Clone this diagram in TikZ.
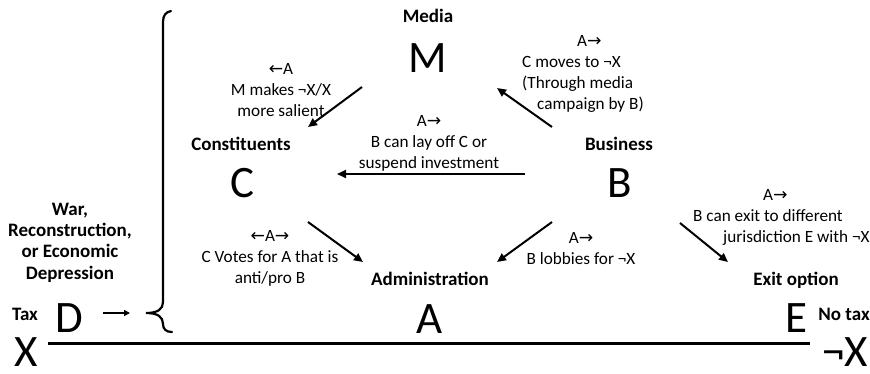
\documentclass[tikz,border=0pt]{standalone}
\usepackage{fontspec}
\setmainfont{Carlito}
\newfontfamily\symfont{DejaVu Sans}
\usetikzlibrary{arrows.meta}
\begin{document}
\begin{tikzpicture}[x=1pt,y=-1pt,
  big/.style={font=\fontsize{45}{45}\selectfont, inner sep=0pt, anchor=base},
  lbl/.style={font=\bfseries\fontsize{19}{21.3}\selectfont, inner sep=0pt, anchor=base},
  txt/.style={font=\fontsize{17.2}{21}\selectfont, inner sep=0pt, anchor=base},
  arr/.style={line width=2pt, -{Triangle[length=9pt,width=8pt]}}]
\useasboundingbox (0,0) rectangle (870,373);
% main nodes
\node[lbl] (media) at (428,22) {Media};
\node[big] (M) at (428,72) {M};
\node[lbl] (const) at (241,150) {Constituents};
\node[big] (C) at (242,197) {C};
\node[lbl] (bus) at (619,150) {Business};
\node[big] (B) at (620,197) {B};
\node[lbl] (adm) at (430,285) {Administration};
\node[big] (A) at (430,333) {A};
\node[lbl] (exit) at (796,285) {Exit option};
\node[big] (E) at (796,332) {E};
\node[big] (D) at (69,332) {D};
\node[lbl] (tax) at (25,320) {Tax};
\node[lbl] (notax) at (844,320) {No tax};
\node[big] (X) at (26,366) {X};
\node[big] (nX) at (845,366) {¬X};
\node[lbl, align=center] (war) at (70,279) {War,\\Reconstruction,\\or Economic\\Depression};
% labels (base anchor = last line)
\node[txt, align=center] (lMC) at (281,116) {{\symfont←}A\\M makes ¬X/X\\more salient};
\node[txt, align=center] (lBC) at (429,168) {A{\symfont→}\\B can lay off C or\\suspend investment};
\node[txt, align=left, anchor=base west] (lBM) at (522,109) {\hspace*{55pt}A{\symfont→}\\C moves to ¬X\\(Through media\\\hspace*{15pt}campaign by B)};
\node[txt, align=center] (lCA) at (270,283) {{\symfont←}A{\symfont→}\\C Votes for A that is\\anti/pro B};
\node[txt, align=center] (lBA) at (581,264) {A{\symfont→}\\B lobbies for ¬X};
\node[txt, align=left, anchor=base west] (lBE) at (693,242) {\hspace*{70pt}A{\symfont→}\\B can exit to different\\\hspace*{30pt}jurisdiction E with ¬X};
% arrow end points
\coordinate (mc1) at (362,87);  \coordinate (mc2) at (308,127);
\coordinate (bm1) at (552,127); \coordinate (bm2) at (497,88);
\coordinate (bc1) at (525,174); \coordinate (bc2) at (337,174);
\coordinate (ca1) at (308,222); \coordinate (ca2) at (363,262);
\coordinate (ba1) at (552,222); \coordinate (ba2) at (497,262);
\coordinate (be1) at (680,223); \coordinate (be2) at (728,262);
\coordinate (d1) at (103,313);  \coordinate (d2) at (130,313);
\coordinate (l1) at (48,343.5); \coordinate (l2) at (810,343.5);
\draw[arr] (mc1) -- (mc2);
\draw[arr] (bm1) -- (bm2);
\draw[arr] (bc1) -- (bc2);
\draw[arr] (ca1) -- (ca2);
\draw[arr] (ba1) -- (ba2);
\draw[arr] (be1) -- (be2);
\draw[line width=2pt, -{Triangle[length=6pt,width=6pt]}] (d1) -- (d2);
\draw[line width=3.5pt] (l1) -- (l2);
% brace
\draw[line width=2.2pt, line cap=round]
  (171,11) .. controls (166,12) and (163,15) .. (163,22) -- (163,302)
  .. controls (163,309) and (158,313) .. (146,313)
  .. controls (158,313) and (163,317) .. (163,324)
  .. controls (163,329) and (166,332) .. (172,332);
\end{tikzpicture}
\end{document}
